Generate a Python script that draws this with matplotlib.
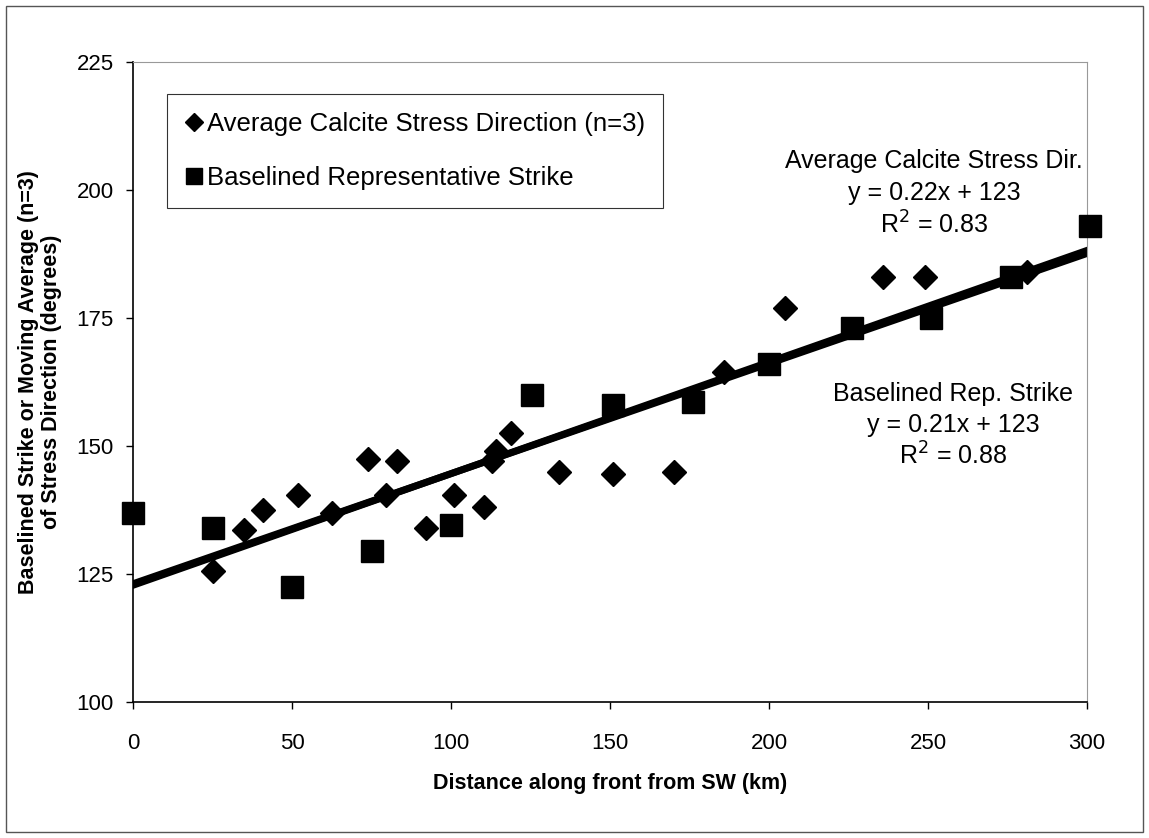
import matplotlib.pyplot as plt
import numpy as np
from matplotlib.patches import Rectangle

# average calcite stress direction (n=3 moving average)
calcite_x = [25, 35, 41, 52, 62.5, 74, 79.5, 83, 92, 101, 110.5, 113, 114, 119,
             134, 151, 170, 186, 205, 236, 249, 281]
calcite_y = [125.5, 133.5, 137.5, 140.5, 137, 147.5, 140.5, 147, 134, 140.5, 138,
             147, 149, 152.5, 145, 144.5, 145, 164.5, 177, 183, 183, 184]

# baselined representative strike
strike_x = [0, 25, 50, 75, 100, 125.5, 151, 176, 200, 226, 251, 276, 301]
strike_y = [137, 134, 122.5, 129.5, 134.5, 160, 158, 158.5, 166, 173, 175, 183, 193]

# linear trend lines (slope, intercept)
calcite_fit = (0.218, 122.8)
strike_fit = (0.215, 123.1)

x_ticks = [0, 50, 100, 150, 200, 250, 300]
y_ticks = [100, 125, 150, 175, 200, 225]

calcite_note = ['Average Calcite Stress Dir.', 'y = 0.22x + 123', 'R$^2$ = 0.83']
strike_note = ['Baselined Rep. Strike', 'y = 0.21x + 123', 'R$^2$ = 0.88']

plt.rcParams['font.family'] = ['Liberation Sans', 'DejaVu Sans']

fig = plt.figure(figsize=(11.49, 8.38), dpi=100)
ax = fig.add_axes([0.1158, 0.1623, 0.8302, 0.7637])

xx = np.array([0, 300])
ax.plot(xx, calcite_fit[0] * xx + calcite_fit[1], color='black', lw=5, zorder=2)
ax.plot(xx, strike_fit[0] * xx + strike_fit[1], color='black', lw=5, zorder=2)

ax.plot(calcite_x, calcite_y, 'D', color='black', ms=12.5, ls='none', zorder=3,
        clip_on=False, label='Average Calcite Stress Direction (n=3)')
ax.plot(strike_x, strike_y, 's', color='black', ms=15.5, ls='none', zorder=3,
        clip_on=False, label='Baselined Representative Strike')

ax.set_xlim(0, 300)
ax.set_ylim(100, 225)
ax.set_xticks(x_ticks)
ax.set_yticks(y_ticks)
ax.tick_params(labelsize=16, direction='out', length=5, width=1)
ax.tick_params(axis='x', pad=17)
ax.tick_params(axis='y', pad=9)
for sp in ['top', 'right']:
    ax.spines[sp].set_color('#999999')
    ax.spines[sp].set_linewidth(0.8)
for sp in ['left', 'bottom']:
    ax.spines[sp].set_linewidth(1.2)

ax.set_xlabel('Distance along front from SW (km)', fontsize=15.5, fontweight='bold',
              labelpad=14)
ax.set_ylabel('Baselined Strike or Moving Average (n=3)\nof Stress Direction (degrees)',
              fontsize=15.5, fontweight='bold', labelpad=10, linespacing=1.15)

leg = ax.legend(loc='upper left', bbox_to_anchor=(0.0356, 0.95), borderaxespad=0,
                fontsize=18.5, frameon=True, fancybox=False, edgecolor='black',
                handlelength=0.7, handletextpad=0.15, borderpad=0.7,
                labelspacing=1.15, markerscale=0.75)
leg.get_frame().set_linewidth(0.8)

for line, yf in zip(calcite_note, [0.845, 0.795, 0.745]):
    ax.text(0.8396, yf, line, transform=ax.transAxes, ha='center', va='center',
            fontsize=18, zorder=4)
for line, yf in zip(strike_note, [0.481, 0.433, 0.385]):
    ax.text(0.8595, yf, line, transform=ax.transAxes, ha='center', va='center',
            fontsize=18, zorder=4)

fig.patches.append(Rectangle((0.005, 0.007), 0.99, 0.986, transform=fig.transFigure,
                             fill=False, edgecolor='#555555', lw=1))

fig.savefig('out.png', dpi=100)
